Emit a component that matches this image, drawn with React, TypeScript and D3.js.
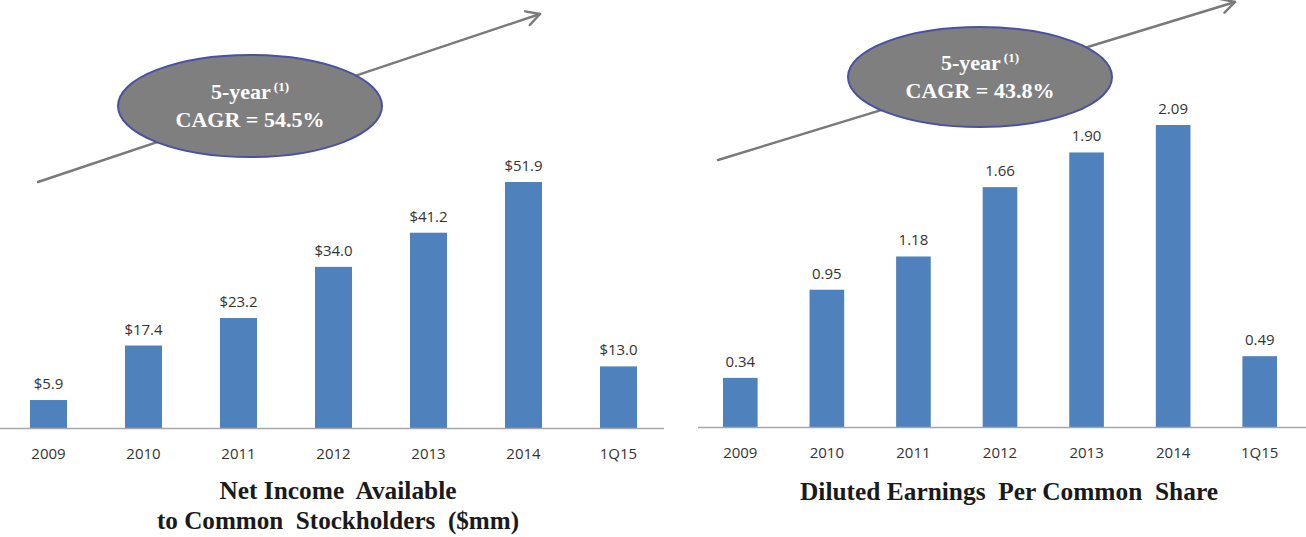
import React from "react";
import * as d3 from "d3";

const categories = ["2009", "2010", "2011", "2012", "2013", "2014", "1Q15"];
const netIncome = [5.9, 17.4, 23.2, 34.0, 41.2, 51.9, 13.0];
const netIncomeLabels = ["$5.9", "$17.4", "$23.2", "$34.0", "$41.2", "$51.9", "$13.0"];
const eps = [0.34, 0.95, 1.18, 1.66, 1.9, 2.09, 0.49];
const epsLabels = ["0.34", "0.95", "1.18", "1.66", "1.90", "2.09", "0.49"];
const leftCagr = "CAGR = 54.5%";
const rightCagr = "CAGR = 43.8%";
const leftTitle = ["Net Income  Available", "to Common  Stockholders  ($mm)"];
const rightTitle = ["Diluted Earnings  Per Common  Share"];

const W = 1306;
const H = 537;
const BAR = "#4f81bd";
const LABEL_FONT = "'Open Sans', sans-serif";
const SERIF = "'Liberation Serif', 'Times New Roman', serif";

type PanelProps = {
  values: number[];
  labels: string[];
  xRange: [number, number];
  axisRange: [number, number];
  yTopVal: number;
  yTopPx: number;
  base: number;
  pad: number;
  title: string[];
  titleWidths: number[];
  titleX: number;
  titleY: number;
  arrow: [number, number, number, number];
  ell: { cx: number; cy: number; rx: number; ry: number };
  cagr: string;
};

function Arrow({ x1, y1, x2, y2 }: { x1: number; y1: number; x2: number; y2: number }) {
  const ang = Math.atan2(y2 - y1, x2 - x1);
  const L = 15;
  const spread = 0.5;
  const p1 = [x2 - L * Math.cos(ang - spread), y2 - L * Math.sin(ang - spread)];
  const p2 = [x2 - L * Math.cos(ang + spread), y2 - L * Math.sin(ang + spread)];
  const line = d3.line();
  return (
    <g stroke="#7a7a7a" strokeWidth={2.5} fill="none" strokeLinecap="round" strokeLinejoin="round">
      <path d={line([[x1, y1], [x2, y2]]) || ""} />
      <path d={line([p1 as [number, number], [x2, y2], p2 as [number, number]]) || ""} />
    </g>
  );
}

function Panel(p: PanelProps) {
  const x = d3.scaleBand<string>().domain(categories).range(p.xRange).paddingInner(p.pad).paddingOuter(p.pad / 2);
  const y = d3.scaleLinear().domain([0, p.yTopVal]).range([p.base, p.yTopPx]);
  return (
    <g>
      <Arrow x1={p.arrow[0]} y1={p.arrow[1]} x2={p.arrow[2]} y2={p.arrow[3]} />
      <ellipse cx={p.ell.cx} cy={p.ell.cy} rx={p.ell.rx} ry={p.ell.ry} fill="#7f7f7f" stroke="#4b50a3" strokeWidth={2} />
      <text x={p.ell.cx} y={p.ell.cy - 7} textAnchor="middle" fill="#fff" fontFamily={SERIF} fontWeight="bold" fontSize={22}>
        5-year<tspan fontSize={13} dy={-8} dx={3}>(1)</tspan>
      </text>
      <text x={p.ell.cx} y={p.ell.cy + 21} textAnchor="middle" fill="#fff" fontFamily={SERIF} fontWeight="bold" fontSize={22}>
        {p.cagr}
      </text>
      {p.values.map((v, i) => (
        <rect key={categories[i]} x={x(categories[i])} y={y(v)} width={x.bandwidth()} height={p.base - y(v)} fill={BAR} />
      ))}
      <line x1={p.axisRange[0]} x2={p.axisRange[1]} y1={p.base + 0.5} y2={p.base + 0.5} stroke="#a6a6a6" strokeWidth={1.5} />
      {p.values.map((v, i) => (
        <text key={"v" + i} x={(x(categories[i]) || 0) + x.bandwidth() / 2} y={y(v) - 11} textAnchor="middle" fontFamily={LABEL_FONT} fontSize={15} fill="#333">
          {p.labels[i]}
        </text>
      ))}
      {categories.map((c) => (
        <text key={"c" + c} x={(x(c) || 0) + x.bandwidth() / 2} y={p.base + 31} textAnchor="middle" fontFamily={LABEL_FONT} fontSize={15} fill="#333">
          {c}
        </text>
      ))}
      {p.title.map((t, i) => (
        <text
          key={"t" + i}
          x={p.titleX - p.titleWidths[i] / 2}
          y={p.titleY + i * 30}
          textLength={p.titleWidths[i]}
          lengthAdjust="spacingAndGlyphs"
          fontFamily={SERIF}
          fontWeight="bold"
          fontSize={25}
          fill="#1a1a1a"
          style={{ whiteSpace: "pre" }}
        >
          {t}
        </text>
      ))}
    </g>
  );
}

export default function App() {
  return (
    <div style={{ position: "fixed", left: 0, top: 0, width: W, height: H, background: "#fff" }}>
      <svg width={W} height={H} viewBox={`0 0 ${W} ${H}`}>
        <rect width={W} height={H} fill="#fff" />
        <Panel
          values={netIncome}
          labels={netIncomeLabels}
          xRange={[1, 666]}
          axisRange={[0, 664]}
          yTopVal={51.9}
          yTopPx={182}
          base={428}
          pad={0.61}
          title={leftTitle}
          titleWidths={[237, 362]}
          titleX={338}
          titleY={499}
          arrow={[38, 182, 540, 14]}
          ell={{ cx: 250, cy: 106, rx: 132, ry: 51 }}
          cagr={leftCagr}
        />
        <Panel
          values={eps}
          labels={epsLabels}
          xRange={[697, 1303]}
          axisRange={[698, 1306]}
          yTopVal={2.09}
          yTopPx={125}
          base={427}
          pad={0.6}
          title={rightTitle}
          titleWidths={[418]}
          titleX={1009}
          titleY={500}
          arrow={[718, 160, 1235, 2]}
          ell={{ cx: 980, cy: 77, rx: 132, ry: 50 }}
          cagr={rightCagr}
        />
      </svg>
    </div>
  );
}
